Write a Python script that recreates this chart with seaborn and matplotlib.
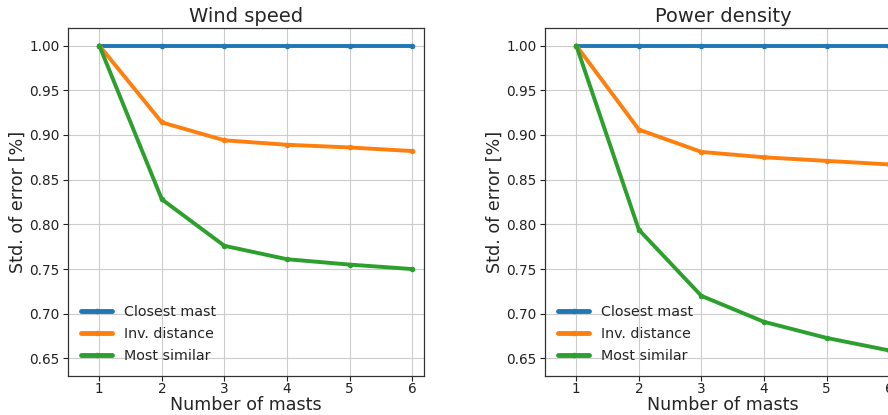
import matplotlib
matplotlib.use("Agg")
import matplotlib.pyplot as plt
import seaborn as sns
import pandas as pd

masts = [1, 2, 3, 4, 5, 6]
methods = ["Closest mast", "Inv. distance", "Most similar"]

wind_closest = [1.0, 1.0, 1.0, 1.0, 1.0, 1.0]
wind_inv = [1.0, 0.914, 0.894, 0.889, 0.886, 0.882]
wind_similar = [1.0, 0.828, 0.776, 0.761, 0.755, 0.750]

power_closest = [1.0, 1.0, 1.0, 1.0, 1.0, 1.0]
power_inv = [1.0, 0.906, 0.881, 0.875, 0.871, 0.867]
power_similar = [1.0, 0.794, 0.720, 0.691, 0.673, 0.659]

titles = ["Wind speed", "Power density"]
colors = ["#1f77b4", "#ff7f0e", "#2ca02c"]


def to_frame(closest, inv, similar):
    rows = []
    for name, vals in zip(methods, [closest, inv, similar]):
        for m, v in zip(masts, vals):
            rows.append({"masts": m, "std": v, "method": name})
    return pd.DataFrame(rows)


frames = [to_frame(wind_closest, wind_inv, wind_similar),
          to_frame(power_closest, power_inv, power_similar)]

sns.set_theme(style="whitegrid")
plt.rcParams["font.family"] = ["DejaVu Sans"]

fig = plt.figure(figsize=(8.88, 4.15), dpi=100)
lefts = [68 / 888, 545 / 888]

for left, title, df in zip(lefts, titles, frames):
    ax = fig.add_axes([left, 39 / 415, 356 / 888, 348 / 415])
    sns.lineplot(data=df, x="masts", y="std", hue="method", palette=colors,
                 marker=".", markersize=8, markeredgewidth=0, linewidth=2.8, ax=ax)
    ax.set_xlim(0.5, 6.19)
    ax.set_ylim(0.6304, 1.0196)
    ax.set_xticks(masts)
    ax.set_yticks([0.65, 0.70, 0.75, 0.80, 0.85, 0.90, 0.95, 1.00])
    ax.set_yticklabels([f"{v:.2f}" for v in ax.get_yticks()])
    ax.set_title(title, fontsize=14, pad=4)
    ax.set_xlabel("Number of masts", fontsize=12.6, labelpad=0)
    ax.set_ylabel("Std. of error [%]", fontsize=12.6, labelpad=2)
    ax.tick_params(labelsize=9.8, colors="#222222", length=3.5, width=0.8, pad=2.5,
                   left=True, bottom=True)
    ax.tick_params(axis="x", pad=1)
    ax.grid(color="#cccccc", linewidth=0.8)
    for s in ax.spines.values():
        s.set_color("#333333")
        s.set_linewidth(0.9)
    leg = ax.legend(loc="lower left", frameon=False, fontsize=10.3, handlelength=2.2,
                    borderaxespad=0.5, labelspacing=0.55, handletextpad=0.8)
    for line in leg.get_lines():
        line.set_linewidth(3.5)

fig.savefig("out.png", dpi=100)
